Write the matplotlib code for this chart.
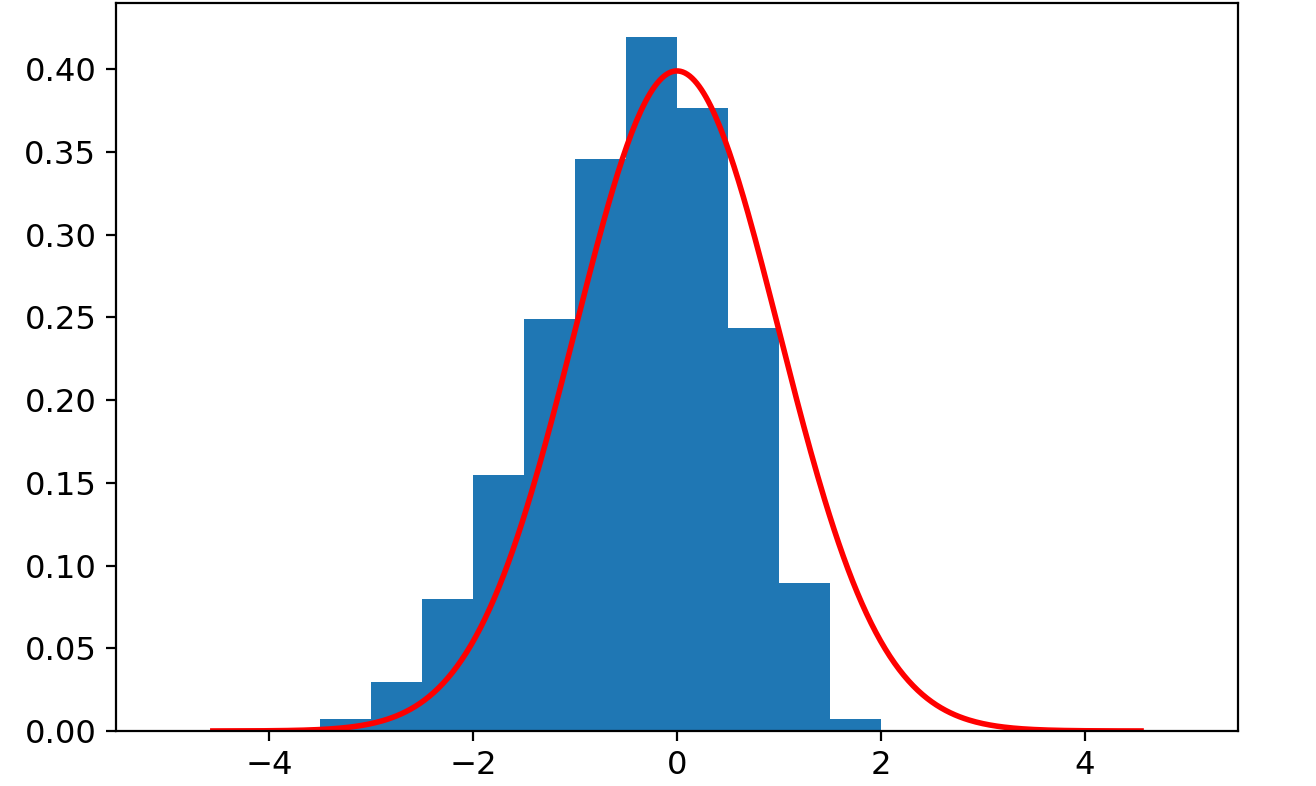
import numpy as np
import matplotlib.pyplot as plt

# histogram bins (left edges, width 0.5) and density heights
bin_edges = [-3.5, -3.0, -2.5, -2.0, -1.5, -1.0, -0.5, 0.0, 0.5, 1.0, 1.5, 2.0]
densities = [0.0073, 0.0296, 0.080, 0.155, 0.249, 0.3456, 0.4193, 0.3764, 0.2435, 0.0894, 0.0073]

# reference normal curve
mu = 0.0
sigma = 1.0
x_min, x_max = -4.55, 4.55

plt.rcParams["font.size"] = 11.6

fig = plt.figure(figsize=(6.58, 3.93), dpi=200)
ax = fig.add_axes([0.0881, 0.07, 0.8526, 0.9262])

ax.hist(bin_edges[:-1], bins=bin_edges, weights=densities, color="#1f77b4")

x = np.linspace(x_min, x_max, 400)
pdf = np.exp(-0.5 * ((x - mu) / sigma) ** 2) / (sigma * np.sqrt(2 * np.pi))
ax.plot(x, pdf, color="red", linewidth=2)

ax.set_xlim(-5.5, 5.5)
ax.set_ylim(0, 0.44)
ax.set_yticks(np.arange(0, 0.41, 0.05))
ax.set_xticks([-4, -2, 0, 2, 4])
ax.yaxis.set_major_formatter(plt.FormatStrFormatter("%.2f"))

fig.savefig("out.png", dpi=200)
